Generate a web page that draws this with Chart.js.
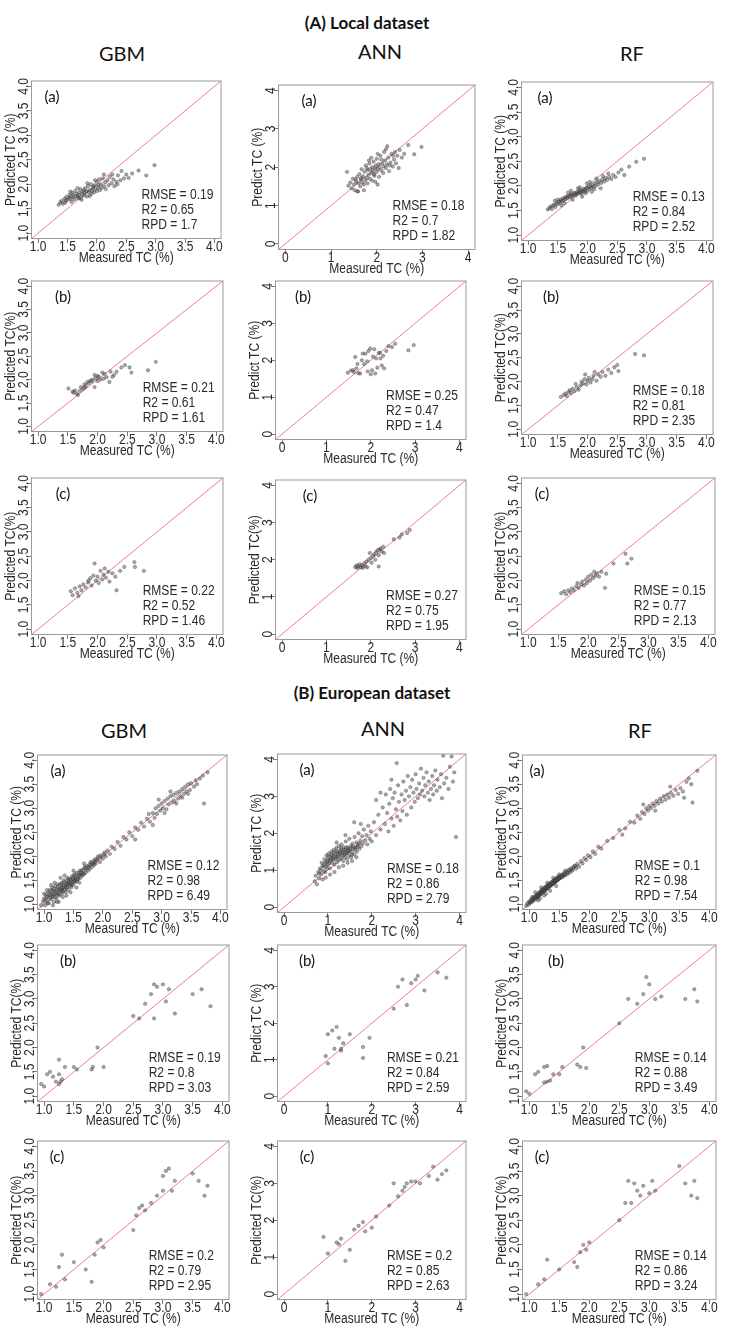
<!DOCTYPE html>
<html>
<head>
<meta charset="utf-8">
<script src="https://cdn.jsdelivr.net/npm/chart.js@4.4.1/dist/chart.umd.min.js"></script>
<style>
  body { margin: 0; background: #fff; }
  #wrap { position: relative; width: 734px; height: 1326px; overflow: hidden; }
  #wrap canvas { position: absolute; }
  .lbl { position: absolute; transform: translate(-50%, -50%); white-space: nowrap; font-family: Lato, "Open Sans", sans-serif; color: #111; }
  .sec { font-size: 17px; font-weight: bold; }
  .head { font-size: 20px; }
</style>
</head>
<body>
<div id="wrap"></div>
<script>
// ---- (A) Local dataset: [measured, predicted] ----
const gbmLocalA = [[1.35,1.58],[1.38,1.63],[1.40,1.66],[1.42,1.60],[1.45,1.70],[1.47,1.66],[1.48,1.74],[1.50,1.68],[1.52,1.72],[1.53,1.78],[1.55,1.70],[1.56,1.75],[1.58,1.82],[1.60,1.73],[1.60,1.78],[1.62,1.69],[1.63,1.86],[1.65,1.76],[1.66,1.80],[1.68,1.74],[1.70,1.83],[1.70,1.78],[1.72,1.90],[1.73,1.72],[1.75,1.80],[1.76,1.85],[1.78,1.77],[1.80,1.92],[1.80,1.82],[1.82,1.86],[1.83,1.75],[1.85,1.96],[1.86,1.84],[1.88,1.88],[1.90,1.80],[1.90,2.00],[1.92,1.86],[1.93,1.92],[1.95,1.83],[1.96,1.98],[1.98,1.90],[2.00,2.05],[2.00,1.86],[2.02,1.94],[2.04,2.10],[2.05,1.88],[2.07,2.00],[2.08,1.92],[2.10,2.12],[2.12,1.96],[2.14,2.04],[2.15,1.90],[2.18,2.08],[2.20,1.98],[2.22,2.15],[2.25,2.02],[2.28,2.10],[2.30,1.96],[2.33,2.05],[2.36,2.18],[2.40,2.08],[2.42,2.27],[2.46,2.12],[2.50,2.20],[2.54,2.13],[2.60,2.22],[2.71,2.28],[2.84,2.18],[2.98,2.39],[1.57,1.64],[1.67,1.92],[1.74,1.68],[1.84,2.02],[1.94,1.95],[2.03,1.98],[1.88,1.76],[1.78,1.88],[1.69,1.71],[2.12,2.20],[1.97,2.08],[1.46,1.62],[1.55,1.85],[2.26,2.20],[2.35,2.00]];
const annLocalA = [[1.35,1.88],[1.38,1.52],[1.42,1.60],[1.45,1.45],[1.48,1.70],[1.50,1.55],[1.52,1.40],[1.55,1.62],[1.57,1.75],[1.58,1.37],[1.60,1.58],[1.62,1.82],[1.64,1.50],[1.65,1.68],[1.67,1.95],[1.68,1.60],[1.70,1.76],[1.72,1.55],[1.73,1.88],[1.75,1.66],[1.76,2.05],[1.78,1.72],[1.80,1.92],[1.80,1.58],[1.82,1.80],[1.84,2.10],[1.85,1.70],[1.86,1.95],[1.88,1.85],[1.90,2.00],[1.90,1.65],[1.92,1.90],[1.93,2.15],[1.95,1.78],[1.96,1.98],[1.98,2.05],[2.00,1.88],[2.00,2.22],[2.02,1.95],[2.04,2.08],[2.05,1.75],[2.06,2.00],[2.08,2.30],[2.10,1.92],[2.12,2.10],[2.14,1.85],[2.15,2.02],[2.18,2.18],[2.20,1.98],[2.20,2.47],[2.22,2.08],[2.25,2.25],[2.27,1.90],[2.30,2.12],[2.32,2.35],[2.35,2.02],[2.38,2.20],[2.40,2.40],[2.42,2.10],[2.45,2.30],[2.48,1.98],[2.50,2.45],[2.55,2.25],[2.60,2.35],[2.69,2.58],[2.82,2.34],[2.98,2.53],[1.59,1.37],[1.72,1.40],[1.88,2.25],[1.97,1.62],[2.02,2.35],[2.16,2.40],[1.83,2.18],[2.28,2.05],[1.66,1.72],[1.78,1.98],[1.94,1.82],[2.10,2.20],[2.36,2.30],[2.02,1.55],[1.54,1.68],[2.23,2.55]];
const rfLocalA = [[1.33,1.52],[1.36,1.55],[1.38,1.58],[1.40,1.53],[1.42,1.60],[1.44,1.62],[1.46,1.57],[1.48,1.65],[1.50,1.63],[1.52,1.68],[1.54,1.66],[1.55,1.72],[1.57,1.69],[1.58,1.74],[1.60,1.71],[1.62,1.77],[1.63,1.73],[1.65,1.78],[1.66,1.75],[1.68,1.80],[1.70,1.77],[1.71,1.82],[1.73,1.79],[1.74,1.84],[1.76,1.81],[1.78,1.86],[1.79,1.83],[1.80,1.80],[1.82,1.87],[1.83,1.84],[1.85,1.89],[1.86,1.85],[1.88,1.91],[1.89,1.87],[1.90,1.84],[1.92,1.90],[1.93,1.94],[1.95,1.88],[1.96,1.92],[1.98,1.96],[2.00,1.90],[2.01,1.98],[2.03,1.94],[2.05,2.00],[2.06,1.96],[2.08,2.02],[2.10,1.98],[2.12,2.05],[2.14,2.00],[2.16,2.08],[2.18,2.03],[2.20,2.10],[2.23,2.06],[2.25,2.13],[2.28,2.09],[2.30,2.16],[2.33,2.12],[2.36,2.18],[2.40,2.14],[2.43,2.22],[2.47,2.18],[2.52,2.27],[2.57,2.33],[2.62,2.22],[2.70,2.39],[2.82,2.49],[2.95,2.55],[1.45,1.70],[1.56,1.60],[1.67,1.86],[1.75,1.72],[1.84,1.95],[1.91,1.78],[1.99,2.05],[2.07,1.88],[2.15,2.15],[2.22,1.95],[2.35,2.25],[1.50,1.72],[1.61,1.65],[1.72,1.90],[1.87,1.97],[1.97,1.85],[2.04,2.08],[2.11,1.93],[2.26,2.20]];
const gbmLocalB = [[1.51,1.81],[1.58,1.74],[1.62,1.77],[1.65,1.70],[1.67,1.67],[1.70,1.76],[1.72,1.84],[1.75,1.80],[1.78,1.90],[1.80,1.86],[1.83,1.95],[1.85,1.92],[1.88,1.98],[1.92,2.00],[1.95,1.84],[1.95,2.10],[1.97,2.03],[2.00,1.97],[2.02,2.06],[2.05,2.00],[2.08,2.15],[2.10,2.02],[2.15,2.05],[2.20,1.95],[2.22,2.17],[2.28,2.10],[2.32,2.17],[2.40,2.26],[2.46,2.31],[2.54,2.26],[2.57,2.15],[2.85,2.20],[2.98,2.38],[1.90,1.96],[2.00,2.08],[2.12,2.12],[2.25,2.06],[1.60,1.72],[1.78,1.83]];
const annLocalB = [[1.48,1.66],[1.55,1.72],[1.60,1.73],[1.62,1.68],[1.65,2.09],[1.68,1.78],[1.72,1.65],[1.76,1.64],[1.80,2.00],[1.82,2.18],[1.85,1.90],[1.88,2.18],[1.92,1.97],[1.95,2.25],[1.99,2.32],[2.00,1.62],[2.03,1.73],[2.05,2.10],[2.08,2.30],[2.10,1.64],[2.12,2.05],[2.15,1.80],[2.18,2.20],[2.21,2.20],[2.25,1.86],[2.28,2.12],[2.30,1.78],[2.35,2.25],[2.40,2.38],[2.48,2.36],[2.55,2.45],[2.85,2.27],[2.97,2.41],[1.70,1.90],[1.93,1.70],[2.22,2.05]];
const rfLocalB = [[1.55,1.68],[1.60,1.72],[1.63,1.75],[1.65,1.70],[1.68,1.78],[1.70,1.82],[1.72,1.76],[1.75,1.85],[1.78,1.80],[1.80,1.95],[1.82,1.88],[1.85,1.83],[1.88,1.92],[1.90,2.00],[1.92,1.96],[1.95,2.05],[1.98,1.94],[2.00,2.02],[2.02,2.08],[2.05,1.98],[2.08,2.05],[2.10,2.12],[2.15,2.02],[2.18,2.15],[2.22,2.10],[2.25,2.20],[2.30,2.12],[2.35,2.25],[2.40,2.18],[2.45,2.30],[2.50,2.35],[2.52,2.22],[2.80,2.58],[2.95,2.55],[1.96,2.15],[2.12,2.20]];
const gbmLocalC = [[1.55,1.78],[1.58,1.70],[1.62,1.84],[1.66,1.75],[1.70,1.88],[1.73,1.80],[1.76,1.92],[1.80,1.86],[1.84,1.96],[1.88,2.05],[1.90,1.90],[1.93,2.10],[1.95,2.35],[1.97,2.00],[2.00,2.08],[2.02,1.95],[2.05,2.20],[2.08,2.02],[2.10,2.12],[2.14,2.06],[2.18,2.18],[2.20,1.98],[2.25,2.15],[2.30,2.08],[2.32,1.80],[2.38,2.20],[2.45,2.28],[2.62,2.38],[2.63,2.28],[2.78,2.20],[1.68,1.68],[1.85,2.00],[2.12,2.25]];
const annLocalC = [[1.65,1.80],[1.68,1.85],[1.70,1.78],[1.72,1.82],[1.75,1.88],[1.78,1.80],[1.80,1.85],[1.82,1.78],[1.85,1.90],[1.88,1.82],[1.90,1.95],[1.92,1.80],[1.95,2.00],[1.98,2.18],[2.00,2.05],[2.02,1.92],[2.05,2.10],[2.08,2.15],[2.10,2.00],[2.12,2.20],[2.15,2.25],[2.18,2.12],[2.20,2.28],[2.22,2.30],[2.25,2.22],[2.28,2.35],[2.30,2.18],[2.18,1.82],[2.52,2.55],[2.65,2.60],[2.70,2.68],[2.82,2.72],[2.88,2.80]];
const rfLocalC = [[1.55,1.74],[1.60,1.78],[1.63,1.72],[1.67,1.80],[1.70,1.76],[1.73,1.84],[1.76,1.80],[1.80,1.88],[1.84,1.85],[1.88,1.92],[1.90,1.98],[1.93,1.90],[1.96,2.02],[1.98,1.95],[2.00,2.08],[2.03,2.00],[2.05,2.12],[2.08,2.05],[2.12,2.10],[2.15,2.15],[2.18,2.08],[2.22,2.18],[2.28,1.85],[2.30,2.14],[2.42,2.35],[2.62,2.55],[2.65,2.35],[2.72,2.45],[1.82,1.95],[2.10,2.18]];

// ---- (B) European dataset ----
const gbmEuroA = [[0.95,0.98],[0.98,1.05],[1.00,1.12],[1.02,0.98],[1.03,1.20],[1.05,1.08],[1.06,1.15],[1.07,1.25],[1.08,1.02],[1.10,1.18],[1.10,1.30],[1.12,1.10],[1.13,1.22],[1.14,1.35],[1.15,1.15],[1.16,1.28],[1.17,1.05],[1.18,1.20],[1.19,1.38],[1.20,1.25],[1.21,1.12],[1.22,1.32],[1.23,1.42],[1.24,1.20],[1.25,1.30],[1.26,1.18],[1.27,1.40],[1.28,1.28],[1.29,1.35],[1.30,1.22],[1.30,1.45],[1.31,1.32],[1.32,1.26],[1.33,1.40],[1.34,1.50],[1.35,1.30],[1.36,1.38],[1.37,1.25],[1.38,1.45],[1.39,1.35],[1.40,1.42],[1.40,1.55],[1.41,1.30],[1.42,1.48],[1.43,1.38],[1.44,1.52],[1.45,1.42],[1.46,1.35],[1.47,1.58],[1.48,1.46],[1.49,1.40],[1.50,1.52],[1.51,1.62],[1.52,1.45],[1.53,1.55],[1.54,1.50],[1.55,1.65],[1.56,1.48],[1.57,1.58],[1.58,1.53],[1.60,1.62],[1.61,1.70],[1.62,1.55],[1.63,1.65],[1.65,1.60],[1.66,1.72],[1.68,1.64],[1.70,1.75],[1.71,1.66],[1.73,1.80],[1.75,1.70],[1.77,1.82],[1.78,1.74],[1.80,1.85],[1.82,1.78],[1.84,1.90],[1.85,1.82],[1.87,1.94],[1.88,1.85],[1.90,1.92],[1.92,2.00],[1.95,1.88],[1.97,2.02],[2.00,1.95],[2.03,2.08],[2.05,2.00],[2.08,2.12],[2.12,2.05],[2.15,2.20],[2.20,2.15],[2.25,2.30],[2.30,2.22],[2.35,2.40],[2.40,2.35],[2.45,2.50],[2.50,2.42],[2.55,2.60],[2.60,2.55],[2.65,2.70],[2.70,2.62],[2.75,2.78],[2.78,2.88],[2.80,2.72],[2.85,2.90],[2.88,2.80],[2.90,3.00],[2.92,2.88],[2.95,3.05],[2.98,2.95],[3.00,3.10],[3.02,3.00],[3.05,3.15],[3.08,2.98],[3.10,3.20],[3.12,3.08],[3.15,3.25],[3.18,3.12],[3.20,3.28],[3.22,3.15],[3.25,3.32],[3.28,3.20],[3.30,3.35],[3.32,3.25],[3.35,3.40],[3.38,3.30],[3.40,3.45],[3.42,3.35],[3.45,3.50],[3.48,3.38],[3.50,3.52],[3.55,3.45],[3.58,3.58],[3.60,3.50],[3.65,3.62],[3.70,3.68],[3.72,3.10],[3.78,3.75],[1.12,1.40],[1.25,1.05],[1.35,1.60],[1.45,1.25],[1.18,1.45],[1.55,1.35],[1.05,1.30],[1.38,1.18],[1.60,1.45],[1.28,1.55],[1.50,1.70],[1.68,1.85],[2.55,2.35],[2.85,2.65],[3.05,2.90],[3.25,3.10],[3.35,3.22],[3.45,3.30],[2.95,3.18],[3.15,3.35],[1.00,1.22],[1.15,0.98],[1.22,1.05],[1.32,1.15],[1.01,1.08],[1.04,1.15],[1.06,1.02],[1.09,1.22],[1.11,1.14],[1.13,1.28],[1.15,1.20],[1.17,1.32],[1.19,1.15],[1.21,1.26],[1.23,1.36],[1.25,1.22],[1.27,1.32],[1.29,1.42],[1.31,1.28],[1.33,1.36],[1.35,1.46],[1.37,1.34],[1.39,1.42],[1.41,1.52],[1.43,1.44],[1.45,1.50],[1.47,1.40],[1.49,1.55],[1.51,1.48],[1.53,1.60],[1.57,1.52],[1.59,1.66],[1.62,1.60],[1.64,1.70],[1.67,1.62],[1.69,1.78],[1.72,1.74],[1.76,1.78],[1.79,1.88],[1.83,1.84],[1.86,1.88],[1.91,1.95],[1.96,1.98],[2.02,2.04]];
const annEuroA = [[0.70,0.70],[0.72,0.85],[0.75,0.62],[0.78,0.95],[0.80,0.78],[0.82,1.05],[0.85,0.90],[0.86,1.20],[0.88,0.75],[0.90,1.10],[0.92,1.30],[0.94,0.95],[0.95,1.22],[0.97,1.40],[0.98,1.05],[1.00,1.30],[1.00,1.15],[1.02,1.45],[1.04,1.25],[1.05,1.05],[1.06,1.35],[1.08,1.50],[1.10,1.20],[1.10,1.38],[1.12,1.28],[1.13,1.55],[1.15,1.15],[1.16,1.42],[1.18,1.30],[1.19,1.60],[1.20,1.35],[1.21,1.22],[1.22,1.48],[1.24,1.38],[1.25,1.65],[1.26,1.28],[1.28,1.45],[1.29,1.55],[1.30,1.32],[1.31,1.70],[1.32,1.40],[1.34,1.50],[1.35,1.25],[1.36,1.62],[1.38,1.42],[1.39,1.35],[1.40,1.55],[1.41,1.78],[1.42,1.45],[1.44,1.30],[1.45,1.60],[1.46,1.50],[1.48,1.40],[1.49,1.85],[1.50,1.55],[1.52,1.65],[1.53,1.35],[1.55,1.48],[1.56,1.72],[1.58,1.58],[1.60,1.42],[1.61,1.90],[1.63,1.62],[1.65,1.75],[1.66,1.50],[1.68,1.68],[1.70,2.00],[1.72,1.58],[1.74,1.80],[1.76,1.65],[1.78,1.92],[1.80,1.72],[1.82,2.10],[1.85,1.80],[1.88,1.95],[1.90,1.70],[1.92,2.20],[1.95,1.85],[1.98,2.05],[2.00,1.78],[1.15,0.95],[1.25,1.08],[1.35,1.12],[0.95,0.80],[1.05,0.88],[1.45,1.20],[1.55,1.25],[1.65,1.35],[1.40,1.95],[1.20,1.75],[1.75,2.25],[1.60,2.30],[2.05,2.30],[2.10,1.95],[2.15,2.50],[2.20,2.10],[2.25,2.70],[2.30,2.25],[2.32,3.05],[2.35,2.55],[2.38,2.05],[2.40,2.80],[2.42,3.20],[2.45,2.40],[2.48,2.95],[2.50,2.20],[2.52,3.10],[2.55,2.65],[2.57,3.90],[2.58,2.45],[2.60,3.30],[2.62,2.85],[2.65,2.35],[2.68,3.05],[2.70,2.60],[2.72,3.40],[2.75,2.90],[2.78,3.15],[2.80,2.50],[2.82,3.55],[2.85,3.00],[2.88,3.25],[2.90,2.70],[2.92,3.45],[2.95,3.10],[2.98,2.85],[3.00,3.60],[3.02,3.20],[3.05,2.95],[3.08,3.35],[3.10,3.05],[3.12,3.75],[3.15,3.15],[3.18,3.50],[3.20,3.00],[3.22,3.30],[3.25,3.65],[3.28,3.10],[3.30,3.40],[3.32,2.90],[3.35,3.20],[3.38,3.55],[3.40,3.05],[3.42,3.30],[3.45,3.70],[3.48,3.15],[3.50,3.45],[3.55,3.25],[3.58,3.60],[3.60,2.95],[3.63,4.10],[3.65,3.35],[3.70,3.50],[3.75,3.20],[3.78,3.80],[3.82,4.08],[3.85,3.40],[3.88,3.65],[3.92,1.90],[2.20,3.10],[2.10,2.90],[2.45,3.45],[0.80,0.90],[0.84,1.00],[0.88,1.12],[0.91,0.98],[0.93,1.18],[0.96,1.10],[0.99,1.25],[1.01,1.38],[1.03,1.18],[1.07,1.28],[1.09,1.42],[1.11,1.32],[1.14,1.48],[1.17,1.36],[1.20,1.52],[1.23,1.42],[1.27,1.50],[1.30,1.60],[1.33,1.45],[1.37,1.55],[1.40,1.48],[1.43,1.62],[1.47,1.52],[1.51,1.58],[1.54,1.42],[1.57,1.65],[1.62,1.55],[1.67,1.62],[1.71,1.72]];
const rfEuroA = [[0.95,0.97],[0.97,1.02],[0.99,0.99],[1.00,1.06],[1.02,1.03],[1.03,1.10],[1.05,1.05],[1.06,1.12],[1.07,1.08],[1.08,1.15],[1.10,1.10],[1.11,1.18],[1.12,1.13],[1.13,1.20],[1.14,1.15],[1.15,1.22],[1.16,1.17],[1.17,1.25],[1.18,1.20],[1.19,1.27],[1.20,1.22],[1.21,1.30],[1.22,1.25],[1.23,1.32],[1.24,1.27],[1.25,1.34],[1.26,1.29],[1.27,1.36],[1.28,1.31],[1.29,1.38],[1.30,1.33],[1.31,1.40],[1.32,1.35],[1.33,1.42],[1.34,1.37],[1.35,1.44],[1.36,1.39],[1.37,1.46],[1.38,1.41],[1.39,1.48],[1.40,1.43],[1.41,1.50],[1.42,1.45],[1.43,1.52],[1.44,1.47],[1.45,1.54],[1.46,1.49],[1.47,1.56],[1.48,1.51],[1.49,1.58],[1.50,1.53],[1.52,1.60],[1.53,1.55],[1.55,1.62],[1.56,1.57],[1.58,1.65],[1.60,1.60],[1.62,1.68],[1.64,1.63],[1.66,1.72],[1.68,1.66],[1.70,1.75],[1.72,1.70],[1.75,1.80],[1.78,1.74],[1.80,1.84],[1.83,1.78],[1.86,1.90],[1.89,1.85],[1.92,1.96],[1.95,1.92],[1.98,2.02],[2.02,1.98],[2.06,2.10],[2.10,2.05],[2.15,2.20],[2.20,2.16],[2.30,2.32],[2.40,2.38],[2.50,2.55],[2.60,2.58],[2.68,2.72],[2.75,2.70],[2.80,2.85],[2.85,2.78],[2.88,2.92],[2.92,2.88],[2.95,3.00],[2.98,2.95],[3.00,3.05],[3.03,3.00],[3.06,3.10],[3.09,3.05],[3.12,3.15],[3.15,3.10],[3.18,3.20],[3.21,3.14],[3.24,3.25],[3.27,3.18],[3.30,3.28],[3.33,3.22],[3.36,3.32],[3.40,3.26],[3.44,3.38],[3.48,3.30],[3.52,3.42],[3.56,3.35],[3.58,3.22],[3.62,3.55],[3.66,3.62],[3.70,3.50],[3.72,3.12],[3.80,3.78],[1.10,1.25],[1.20,1.35],[1.30,1.45],[1.15,1.08],[1.25,1.18],[1.35,1.28],[1.45,1.38],[1.40,1.55],[1.50,1.62],[1.05,1.15],[1.60,1.70],[2.55,2.45],[2.90,3.08],[3.10,2.95],[3.35,3.45],[1.18,1.12],[1.28,1.22],[1.01,1.04],[1.04,1.08],[1.06,1.10],[1.09,1.13],[1.11,1.15],[1.13,1.17],[1.15,1.18],[1.17,1.22],[1.19,1.23],[1.21,1.25],[1.23,1.28],[1.25,1.29],[1.27,1.32],[1.29,1.34],[1.31,1.35],[1.33,1.38],[1.35,1.40],[1.37,1.42],[1.39,1.44],[1.41,1.45],[1.43,1.48],[1.45,1.50],[1.47,1.52],[1.49,1.54],[1.51,1.56],[1.54,1.58],[1.57,1.61],[1.59,1.63],[1.63,1.66],[1.67,1.70],[1.71,1.73],[1.74,1.77],[1.77,1.80]];
const gbmEuroB = [[0.95,1.25],[1.00,1.20],[1.05,1.45],[1.10,1.50],[1.15,1.40],[1.20,1.30],[1.25,1.45],[1.25,1.75],[1.28,1.30],[1.30,1.35],[1.35,1.60],[1.50,1.60],[1.55,1.55],[1.80,1.55],[1.82,1.60],[1.90,2.00],[2.00,1.60],[1.25,1.25],[2.50,2.65],[2.60,2.60],[2.70,2.90],[2.80,3.10],[2.85,3.30],[2.85,2.60],[2.90,3.25],[3.00,3.30],[3.05,2.95],[3.10,3.20],[3.20,2.70],[3.50,3.10],[3.65,3.20],[3.80,2.85]];
const annEuroB = [[0.95,1.10],[1.00,0.90],[1.00,1.70],[1.10,1.80],[1.15,1.30],[1.20,1.90],[1.25,1.60],[1.30,1.25],[1.30,1.30],[1.35,1.45],[1.50,1.70],[1.80,1.35],[1.80,1.05],[1.95,1.60],[2.50,2.40],[2.60,3.00],[2.70,3.20],[2.80,2.50],[2.90,3.10],[3.00,3.20],[3.05,3.30],[3.20,2.90],[3.50,3.40],[3.70,3.25]];
const rfEuroB = [[0.95,1.10],[1.00,1.05],[1.10,1.45],[1.15,1.50],[1.25,1.60],[1.30,1.62],[1.25,1.28],[1.30,1.30],[1.35,1.32],[1.40,1.45],[1.50,1.45],[1.55,1.60],[1.80,1.65],[1.85,1.60],[1.90,2.00],[1.95,1.58],[2.50,2.50],[2.65,3.00],[2.80,2.90],[2.90,3.10],[2.95,3.45],[3.00,3.30],[3.10,3.00],[3.20,3.05],[3.60,3.00],[3.75,3.20],[3.80,2.95]];
const gbmEuroC = [[0.95,1.00],[1.10,1.20],[1.20,1.15],[1.25,1.55],[1.30,1.80],[1.35,1.30],[1.50,1.65],[1.70,1.50],[1.80,1.25],[1.85,1.80],[1.90,2.05],[1.95,2.10],[2.00,1.95],[2.50,2.30],[2.55,2.60],[2.65,2.80],[2.70,2.70],[2.80,2.85],[2.90,3.00],[3.00,3.40],[3.05,3.50],[3.10,3.55],[3.15,3.10],[3.20,3.30],[3.50,3.45],[3.60,3.30],[3.70,3.00],[3.75,3.20],[2.60,2.75],[3.00,3.10]];
const annEuroC = [[0.90,1.55],[1.00,1.10],[1.20,1.40],[1.30,1.50],[1.40,0.90],[1.50,1.20],[1.60,1.75],[1.70,1.85],[1.80,1.95],[1.85,1.70],[2.00,1.80],[2.10,2.10],[2.40,2.40],[2.50,3.00],[2.60,2.65],[2.70,2.80],[2.75,2.90],[2.80,3.00],[2.90,3.05],[3.00,3.05],[3.10,3.00],[3.30,3.20],[3.40,3.45],[3.50,3.10],[3.60,3.25],[3.70,3.35],[1.25,1.35]];
const rfEuroC = [[0.95,1.00],[1.15,1.20],[1.25,1.30],[1.30,1.70],[1.50,1.50],[1.75,1.65],[1.80,1.55],[1.85,1.85],[1.90,2.00],[1.95,1.90],[2.00,2.05],[2.50,2.50],[2.60,2.85],[2.65,3.30],[2.70,2.85],[2.80,3.10],[2.85,3.00],[2.90,3.20],[3.00,3.05],[3.05,3.30],[3.10,3.10],[3.50,3.60],[3.60,3.25],[3.70,3.00],[3.75,3.30],[3.80,2.95],[2.75,3.25]];

// fit statistics, panel order: GBM(a) ANN(a) RF(a) GBM(b) ANN(b) RF(b) GBM(c) ANN(c) RF(c)
const rmseLocal = [0.19, 0.18, 0.13, 0.21, 0.25, 0.18, 0.22, 0.27, 0.15];
const r2Local   = [0.65, 0.7, 0.84, 0.61, 0.47, 0.81, 0.52, 0.75, 0.77];
const rpdLocal  = [1.7, 1.82, 2.52, 1.61, 1.4, 2.35, 1.46, 1.95, 2.13];
const rmseEuro  = [0.12, 0.18, 0.1, 0.19, 0.21, 0.14, 0.2, 0.2, 0.14];
const r2Euro    = [0.98, 0.86, 0.98, 0.8, 0.84, 0.88, 0.79, 0.85, 0.86];
const rpdEuro   = [6.49, 2.79, 7.54, 3.03, 2.59, 3.49, 2.95, 2.63, 3.24];

const tags = ['(a)', '(a)', '(a)', '(b)', '(b)', '(b)', '(c)', '(c)', '(c)'];
const yTitlesLocal = ['Predicted TC (%)', 'Predict TC (%)', 'Predicted TC (%)', 'Predicted TC(%)', 'Predict TC (%)', 'Predicted TC(%)', 'Predicted TC(%)', 'Predicted TC(%)', 'Predicted TC(%)'];
const yTitlesEuro = ['Predicted TC (%)', 'Predict TC (%)', 'Predicted TC (%)', 'Predicted TC(%)', 'Predict TC (%)', 'Predicted TC(%)', 'Predicted TC(%)', 'Predicted TC(%)', 'Predicted TC(%)'];

// plot boxes in page pixels: left, top, right, bottom, tag offset
const boxesLocal = [
  [31, 80, 222, 239, 21], [278, 84, 476, 250, 31], [521, 81, 714, 241, 24],
  [31, 280, 224, 432, 32], [275, 280, 467, 440, 28], [521, 280, 714, 435, 30],
  [31, 477, 224, 635, 32], [275, 479, 467, 640, 35], [521, 477, 716, 635, 21]
];
const boxesEuro = [
  [37, 754, 228, 910, 21], [277, 753, 467, 913, 30], [522, 754, 717, 910, 15],
  [37, 944, 230, 1102, 31], [277, 944, 467, 1102, 30], [522, 944, 717, 1102, 34],
  [37, 1140, 230, 1300, 20], [277, 1140, 467, 1300, 30], [522, 1140, 717, 1300, 20]
];

const wrap = document.getElementById('wrap');
const SANS = '"Liberation Sans", Arial, sans-serif';
const SQUASH = 0.86;

function addText(txt, x, y, cls) {
  const d = document.createElement('div');
  d.className = 'lbl ' + cls;
  d.textContent = txt;
  d.style.left = x + 'px';
  d.style.top = y + 'px';
  wrap.appendChild(d);
}

addText('(A) Local dataset', 367, 22, 'sec');
addText('GBM', 122, 53, 'head');
addText('ANN', 380, 51, 'head');
addText('RF', 632, 53, 'head');
addText('(B) European  dataset', 372, 692, 'sec');
addText('GBM', 124, 730, 'head');
addText('ANN', 383, 728, 'head');
addText('RF', 640, 730, 'head');

// narrow text, optionally rotated to read bottom-up
function narrowText(ctx, s, x, y, align, rotated) {
  ctx.save();
  ctx.translate(x, y);
  if (rotated) ctx.rotate(-Math.PI / 2);
  ctx.scale(SQUASH, 1);
  ctx.textAlign = align;
  ctx.fillText(s, 0, 0);
  ctx.restore();
}

// R-style frame, tick labels, titles and annotations
const rFrame = {
  id: 'rFrame',
  afterDraw(chart, args, o) {
    const { ctx, chartArea: a, scales: { x, y } } = chart;
    ctx.save();
    ctx.strokeStyle = '#9a9a9a';
    ctx.lineWidth = 1;
    ctx.strokeRect(a.left + 0.5, a.top + 0.5, a.right - a.left - 1, a.bottom - a.top - 1);

    ctx.fillStyle = '#2a2a2a';
    ctx.font = '14px ' + SANS;
    ctx.textBaseline = 'middle';
    const dec = o.ann ? 0 : 1;
    x.ticks.forEach(t => narrowText(ctx, t.value.toFixed(dec), x.getPixelForValue(t.value), a.bottom + 8, 'center'));
    narrowText(ctx, 'Measured TC (%)', (a.left + a.right) / 2, a.bottom + 19, 'center');
    y.ticks.forEach(t => narrowText(ctx, t.value.toFixed(dec), a.left - 7, y.getPixelForValue(t.value), 'center', true));
    narrowText(ctx, o.yTitle, a.left - 20, (a.top + a.bottom) / 2, 'center', true);

    const sx = a.left + 0.58 * (a.right - a.left);
    narrowText(ctx, 'RMSE = ' + o.rmse, sx, a.bottom - 44, 'left');
    narrowText(ctx, 'R2 = ' + o.r2, sx, a.bottom - 29, 'left');
    narrowText(ctx, 'RPD = ' + o.rpd, sx, a.bottom - 14, 'left');

    ctx.font = '15px Lato, "Open Sans", sans-serif';
    ctx.textAlign = 'center';
    ctx.fillStyle = '#111';
    ctx.fillText(o.tag, a.left + o.tagDx, a.top + 17);
    ctx.restore();
  }
};

function makePanel(box, pts, opts) {
  const L = 32, T = 4, R = 4, B = 28;
  const w = box[2] - box[0], h = box[3] - box[1];
  const cv = document.createElement('canvas');
  cv.width = w + L + R;
  cv.height = h + T + B;
  cv.style.left = (box[0] - L) + 'px';
  cv.style.top = (box[1] - T) + 'px';
  wrap.appendChild(cv);

  const lo = opts.ann ? -0.16 : 0.88;
  const hi = opts.ann ? 4.16 : 4.12;
  const step = opts.ann ? 1 : 0.5;
  const axis = (fit) => ({
    type: 'linear', min: lo, max: hi,
    afterFit: fit,
    ticks: { display: false, stepSize: step, includeBounds: false },
    grid: { drawOnChartArea: false, drawTicks: true, tickLength: 4, color: '#777' },
    border: { display: false }
  });

  new Chart(cv, {
    type: 'scatter',
    data: {
      datasets: [
        {
          data: pts.map(p => ({ x: p[0], y: p[1] })),
          pointRadius: 1.7,
          backgroundColor: 'rgba(85,85,85,0.5)',
          borderColor: 'rgba(30,30,30,0.6)',
          borderWidth: 0.5
        },
        {
          type: 'line',
          data: [{ x: lo, y: lo }, { x: hi, y: hi }],
          borderColor: '#f08080',
          borderWidth: 1,
          pointRadius: 0
        }
      ]
    },
    options: {
      responsive: false,
      animation: false,
      layout: { padding: { top: T, right: R, left: 0, bottom: 0 } },
      plugins: { legend: { display: false }, tooltip: { enabled: false }, rFrame: opts },
      scales: {
        x: axis(s => { s.height = B; }),
        y: axis(s => { s.width = L; })
      }
    },
    plugins: [rFrame]
  });
}

const localSets = [gbmLocalA, annLocalA, rfLocalA, gbmLocalB, annLocalB, rfLocalB, gbmLocalC, annLocalC, rfLocalC];
const euroSets = [gbmEuroA, annEuroA, rfEuroA, gbmEuroB, annEuroB, rfEuroB, gbmEuroC, annEuroC, rfEuroC];

localSets.forEach((pts, i) => makePanel(boxesLocal[i], pts, {
  ann: i % 3 === 1, yTitle: yTitlesLocal[i], tag: tags[i], tagDx: boxesLocal[i][4],
  rmse: rmseLocal[i], r2: r2Local[i], rpd: rpdLocal[i]
}));
euroSets.forEach((pts, i) => makePanel(boxesEuro[i], pts, {
  ann: i % 3 === 1, yTitle: yTitlesEuro[i], tag: tags[i], tagDx: boxesEuro[i][4],
  rmse: rmseEuro[i], r2: r2Euro[i], rpd: rpdEuro[i]
}));
</script>
</body>
</html>
